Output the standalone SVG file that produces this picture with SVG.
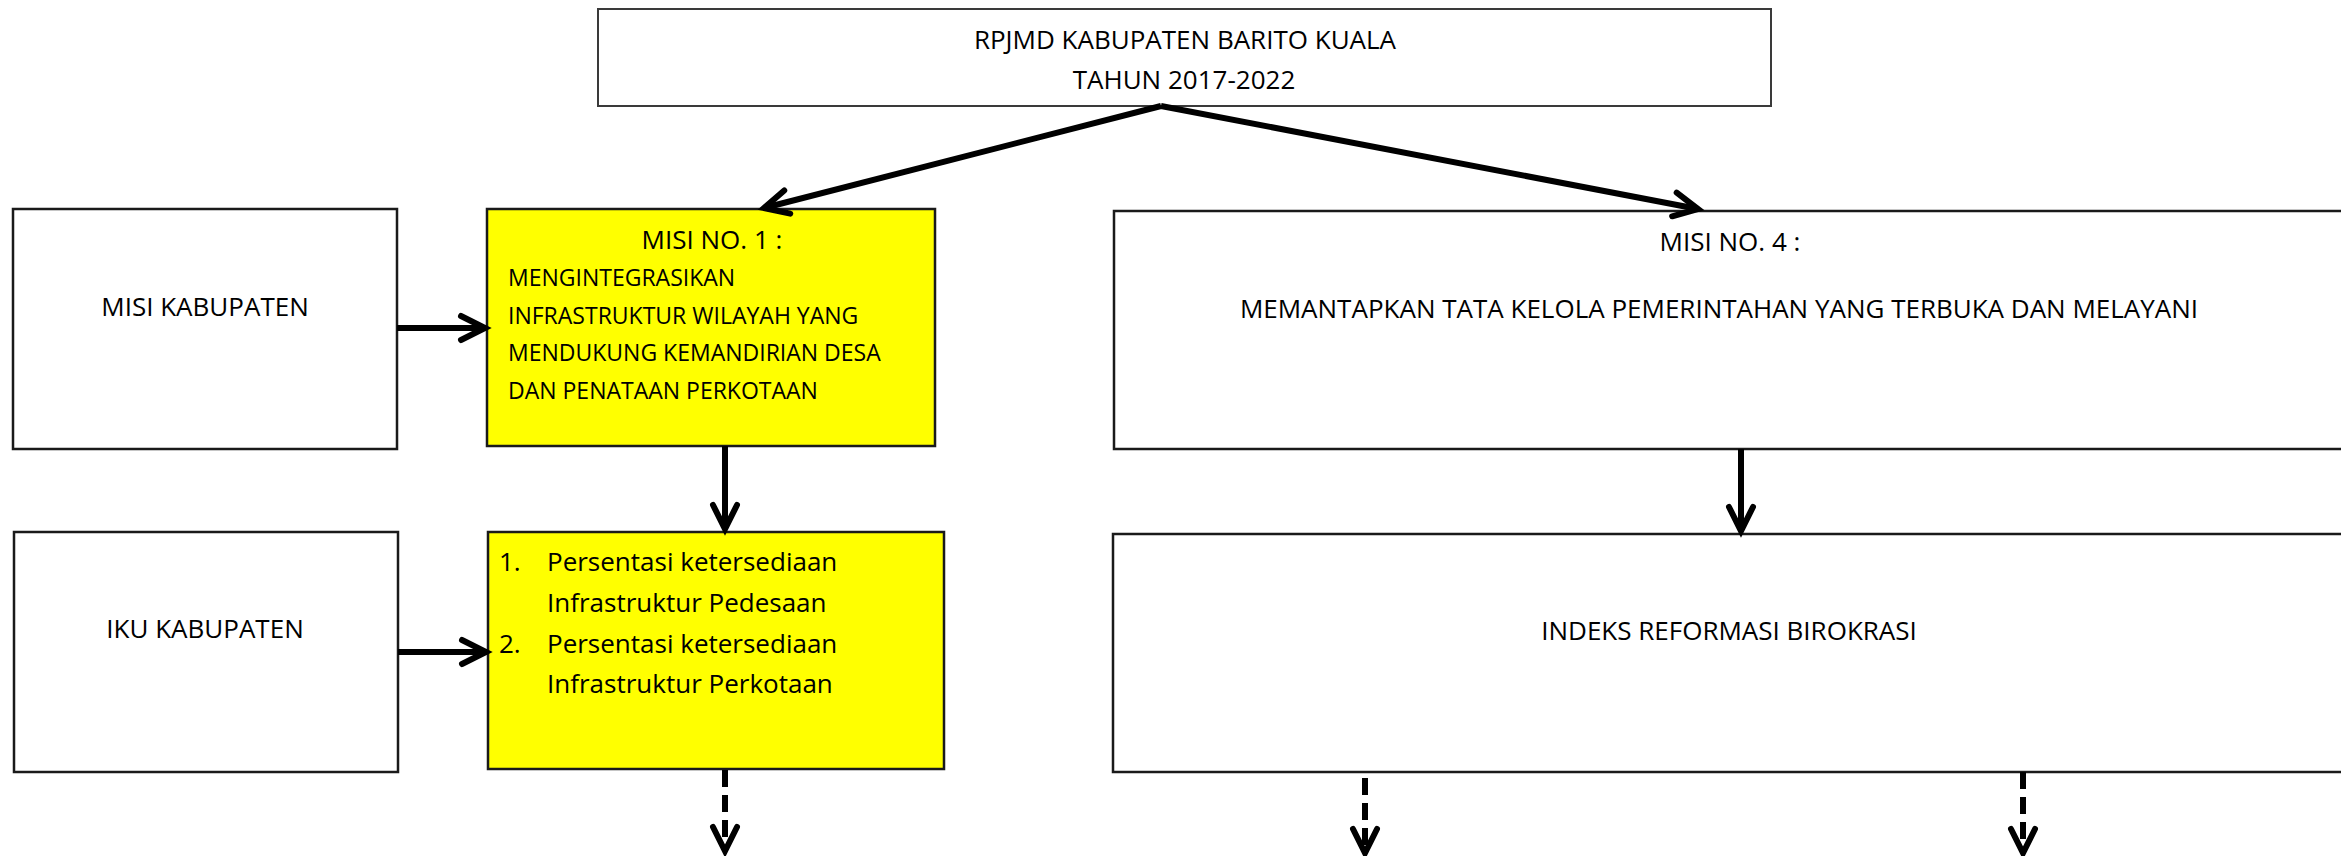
<svg xmlns="http://www.w3.org/2000/svg" width="2341" height="856" viewBox="0 0 2341 856">
  <style>
    .box { fill: #ffffff; stroke: #1a1a1a; stroke-width: 2.5; }
    .top { fill: #ffffff; stroke: #3a3a3a; stroke-width: 2; }
    .yellow { fill: #ffff00; stroke: #1a1a1a; stroke-width: 2.5; }
    .t { font-family: "Open Sans", "Noto Sans", "Liberation Sans", sans-serif; font-size: 26px; fill: #000000; }
    .s { font-size: 23px; }
    .c { text-anchor: middle; }
    .conn { stroke: #000000; stroke-width: 6; fill: none; }
    .dash { stroke-dasharray: 17 8; }
  </style>
  <defs>
    <marker id="arrow" markerUnits="userSpaceOnUse" viewBox="-30 -16 34 32" markerWidth="34" markerHeight="32" refX="0" refY="0" orient="auto" overflow="visible">
      <path d="M -24 -12 L 0 0 L -24 12" fill="none" stroke="#000000" stroke-width="6" stroke-linecap="round" stroke-linejoin="miter"/>
    </marker>
  </defs>

  <g id="node-rpjmd">
    <rect class="top" x="598" y="9" width="1173" height="97"/>
    <text class="t c" x="1185" y="49">RPJMD KABUPATEN BARITO KUALA</text>
    <text class="t c" x="1184" y="89">TAHUN 2017-2022</text>
  </g>

  <g id="node-misi-kabupaten">
    <rect class="box" x="13" y="209" width="384" height="240"/>
    <text class="t c" x="205" y="316">MISI KABUPATEN</text>
  </g>

  <g id="node-misi-1">
    <rect class="yellow" x="487" y="209" width="448" height="237"/>
    <text class="t c" x="712" y="249">MISI NO. 1 :</text>
    <text class="t s" x="508" y="286">MENGINTEGRASIKAN</text>
    <text class="t s" x="508" y="324">INFRASTRUKTUR WILAYAH YANG</text>
    <text class="t s" x="508" y="361">MENDUKUNG KEMANDIRIAN DESA</text>
    <text class="t s" x="508" y="399">DAN PENATAAN PERKOTAAN</text>
  </g>

  <g id="node-misi-4">
    <rect class="box" x="1114" y="211" width="1250" height="238"/>
    <text class="t c" x="1730" y="251">MISI NO. 4 :</text>
    <text class="t c" x="1719" y="318">MEMANTAPKAN TATA KELOLA PEMERINTAHAN YANG TERBUKA DAN MELAYANI</text>
  </g>

  <g id="node-iku-kabupaten">
    <rect class="box" x="14" y="532" width="384" height="240"/>
    <text class="t c" x="205" y="638">IKU KABUPATEN</text>
  </g>

  <g id="node-iku-misi-1">
    <rect class="yellow" x="488" y="532" width="456" height="237"/>
    <text class="t" x="499" y="571">1.</text>
    <text class="t" x="547" y="571">Persentasi ketersediaan</text>
    <text class="t" x="547" y="612">Infrastruktur Pedesaan</text>
    <text class="t" x="499" y="653">2.</text>
    <text class="t" x="547" y="653">Persentasi ketersediaan</text>
    <text class="t" x="547" y="693">Infrastruktur Perkotaan</text>
  </g>

  <g id="node-indeks">
    <rect class="box" x="1113" y="534" width="1250" height="238"/>
    <text class="t c" x="1729" y="640">INDEKS REFORMASI BIROKRASI</text>
  </g>

  <g id="connectors">
    <line class="conn" x1="1161" y1="106" x2="764" y2="208" marker-end="url(#arrow)"/>
    <line class="conn" x1="1161" y1="106" x2="1698" y2="209" marker-end="url(#arrow)"/>
    <line class="conn" x1="397" y1="328" x2="485" y2="328" marker-end="url(#arrow)"/>
    <line class="conn" x1="725" y1="446" x2="725" y2="529" marker-end="url(#arrow)"/>
    <line class="conn" x1="398" y1="652" x2="486" y2="652" marker-end="url(#arrow)"/>
    <line class="conn" x1="1741" y1="449" x2="1741" y2="531" marker-end="url(#arrow)"/>
    <line class="conn dash" x1="725" y1="770" x2="725" y2="851" marker-end="url(#arrow)"/>
    <line class="conn dash" x1="1365" y1="778" x2="1365" y2="853" marker-end="url(#arrow)"/>
    <line class="conn dash" x1="2023" y1="772" x2="2023" y2="853" marker-end="url(#arrow)"/>
  </g>
</svg>
